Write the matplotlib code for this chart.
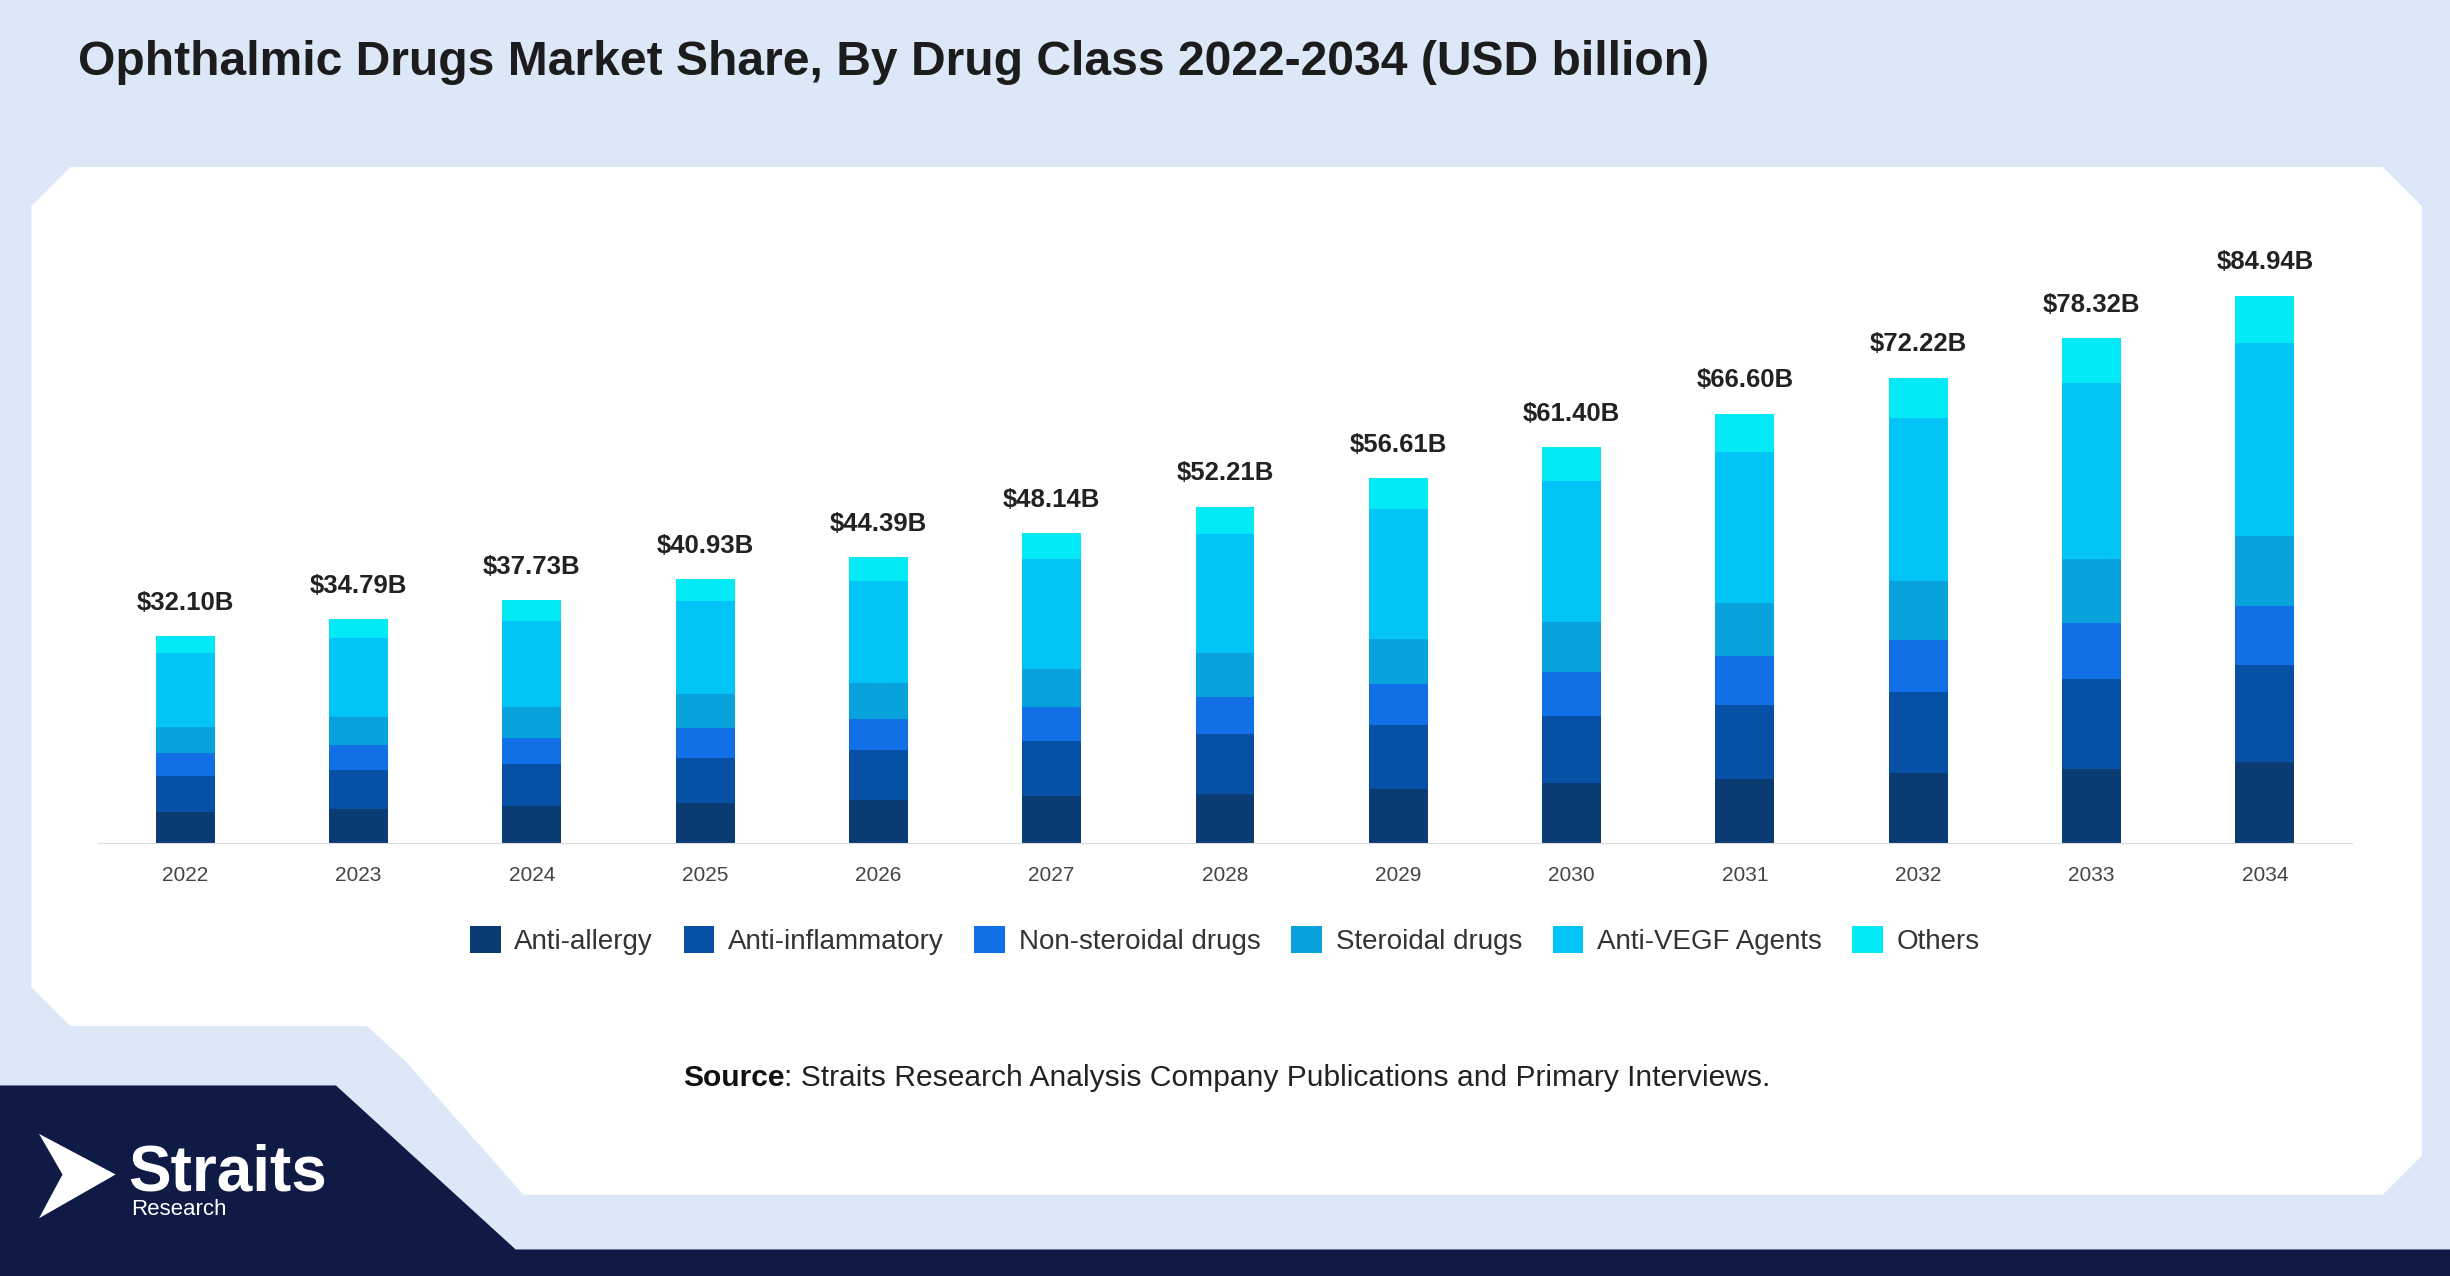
import numpy as np
import matplotlib.pyplot as plt
from matplotlib.patches import Polygon

plt.rcParams['font.family'] = ['Liberation Sans', 'DejaVu Sans']

years = ['2022', '2023', '2024', '2025', '2026', '2027', '2028',
         '2029', '2030', '2031', '2032', '2033', '2034']
totals = ['$32.10B', '$34.79B', '$37.73B', '$40.93B', '$44.39B', '$48.14B', '$52.21B',
          '$56.61B', '$61.40B', '$66.60B', '$72.22B', '$78.32B', '$84.94B']
anti_allergy = [4.8, 5.3, 5.8, 6.3, 6.8, 7.3, 7.7, 8.5, 9.4, 9.9, 10.9, 11.6, 12.6]
anti_inflam = [5.6, 6.0, 6.5, 7.0, 7.7, 8.5, 9.2, 9.9, 10.4, 11.6, 12.6, 13.8, 15.0]
non_steroidal = [3.6, 3.9, 4.1, 4.6, 4.8, 5.3, 5.8, 6.3, 6.8, 7.5, 8.0, 8.7, 9.2]
steroidal = [4.1, 4.4, 4.8, 5.3, 5.6, 6.0, 6.8, 7.0, 7.7, 8.2, 9.2, 9.9, 10.9]
anti_vegf = [11.4, 12.3, 13.3, 14.3, 15.7, 16.9, 18.4, 20.1, 21.8, 23.5, 25.2, 27.3, 29.8]
others = [2.6, 2.9, 3.2, 3.4, 3.8, 4.1, 4.3, 4.8, 5.3, 5.9, 6.3, 7.0, 7.4]

series = [('Anti-allergy', anti_allergy, '#0b3b73'),
          ('Anti-inflammatory', anti_inflam, '#0651a6'),
          ('Non-steroidal drugs', non_steroidal, '#1270e6'),
          ('Steroidal drugs', steroidal, '#08a2dd'),
          ('Anti-VEGF Agents', anti_vegf, '#03c4f7'),
          ('Others', others, '#03e9f5')]

W, H = 1568, 817
fig = plt.figure(figsize=(24.5, 12.76), dpi=100)
fig.patch.set_facecolor('#dce8f8')

# background shapes in reference pixel coords
bg = fig.add_axes([0, 0, 1, 1])
bg.set_xlim(0, W)
bg.set_ylim(H, 0)
bg.axis('off')
panel = Polygon([(45, 107), (1525, 107), (1550, 132), (1550, 740), (1525, 765),
                 (335, 765), (260, 680), (235, 657), (45, 657), (20, 632), (20, 132)],
                closed=True, fc='white', ec='none', lw=0)
bg.add_patch(panel)
footer = Polygon([(0, 695), (215, 695), (330, 800), (W, 800), (W, H), (0, H)],
                 closed=True, fc='#0f1b45', ec='none')
bg.add_patch(footer)
bg.add_patch(Polygon([(25, 726), (74, 752), (25, 780), (40, 752)], closed=True, fc='white'))
bg.text(82, 762, 'Straits', color='white', fontsize=46, fontweight='bold', va='baseline')
bg.text(84, 778, 'Research', color='white', fontsize=16, va='baseline')
bg.text(50, 40, 'Ophthalmic Drugs Market Share, By Drug Class 2022-2034 (USD billion)',
        fontsize=34.6, fontweight='bold', color='#1c1c1c', va='center')
bg.text(502, 690, 'Source', fontsize=21.6, fontweight='bold', color='#111111',
        ha='right', va='center')
bg.text(502, 690, ': Straits Research Analysis Company Publications and Primary Interviews.',
        fontsize=21.6, color='#222222', ha='left', va='center')

ax = fig.add_axes([63 / W, 1 - 540 / H, 1442 / W, 390 / H])
ax.set_facecolor('none')
x = np.arange(len(years))
bottom = np.zeros(len(years))
for name, vals, col in series:
    ax.bar(x, vals, 0.34, bottom=bottom, color=col, label=name)
    bottom += np.array(vals)
for xi, top, lab in zip(x, bottom, totals):
    ax.text(xi, top + 3.3, lab, ha='center', va='bottom', fontsize=18.5, fontweight='bold', color='#222222')
ax.set_xlim(-0.5, len(years) - 0.5)
ax.set_ylim(0, 94.4)
ax.set_xticks(x)
ax.set_xticklabels(years, fontsize=15, color='#444444')
ax.set_yticks([])
for s in ['top', 'right', 'left']:
    ax.spines[s].set_visible(False)
ax.spines['bottom'].set_color('#dddddd')
ax.tick_params(axis='x', length=0, pad=16)
ax.legend(loc='upper center', bbox_to_anchor=(0.5, -0.095), ncol=6, frameon=False,
          fontsize=20, handlelength=1.1, handleheight=1.1, columnspacing=1.1,
          handletextpad=0.5, labelcolor='#333333')

plt.savefig('out.png', facecolor=fig.get_facecolor())
